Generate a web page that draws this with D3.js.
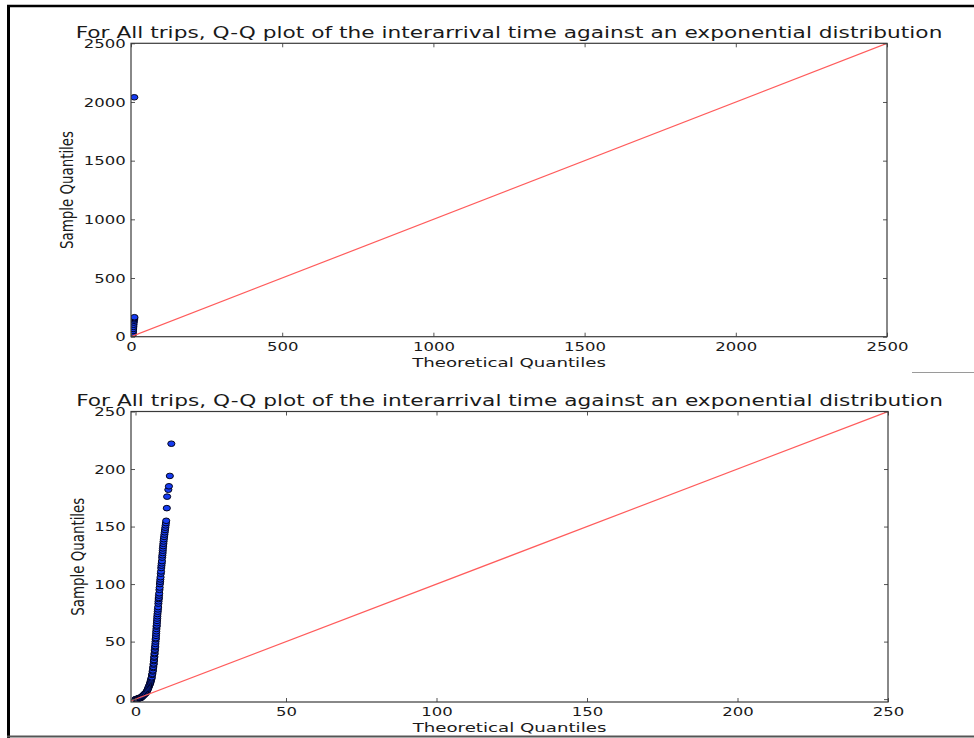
<!DOCTYPE html>
<html>
<head>
<meta charset="utf-8">
<script src="https://cdn.jsdelivr.net/npm/d3@7"></script>
<style>
  html, body { margin: 0; padding: 0; background: #fff; }
  svg { display: block; }
  text { font-family: "DejaVu Sans", sans-serif; }
</style>
</head>
<body>
<script>
// Q-Q plots of trip interarrival times vs. an exponential distribution

// Panel 1: all trips, full range (includes the large outlier)
const fullTheoretical = [0, 0.6, 1.2, 2, 2.8, 3.6, 4.5, 5.3, 6, 6.6, 7.2, 7.8, 8.4, 9, 9.6, 10.2, 10.8, 11.3, 10.9];
const fullSample      = [0, 0, 1, 2, 4, 7, 12, 20, 32, 48, 66, 84, 102, 120, 136, 148, 158, 166, 2040];

// Panel 2: all trips, zoomed to 0–250
const zoomTheoretical = [
  0, 0.2, 0.4, 0.6, 0.8, 1.0, 1.2, 1.4, 1.6, 1.8, 2.0, 2.2, 2.4, 2.6, 2.8, 3.0,
  3.2, 3.4, 3.6, 3.8, 4.0, 4.15, 4.3, 4.45, 4.6, 4.75, 4.9, 5.0, 5.1, 5.2, 5.3,
  5.4, 5.5, 5.6, 5.7, 5.78, 5.85, 5.92, 6.0, 6.05, 6.1, 6.15, 6.2, 6.25, 6.3,
  6.35, 6.4, 6.45, 6.5, 6.55, 6.6, 6.65, 6.7, 6.75, 6.8, 6.85, 6.9, 6.95, 7.0,
  7.05, 7.1, 7.15, 7.2, 7.25, 7.3, 7.38, 7.45, 7.52, 7.6, 7.65, 7.7, 7.75, 7.8,
  7.88, 7.95, 8.02, 8.1, 8.18, 8.25, 8.32, 8.4, 8.48, 8.55, 8.62, 8.7, 8.78,
  8.85, 8.92, 9.0, 9.05, 9.1, 9.18, 9.25, 9.32, 9.4, 9.5, 9.6, 9.7, 9.8, 9.9,
  10.0, 10.1, 10.2, 10.4, 10.5, 10.9, 11.1, 11.4, 11.9
];
const zoomSample = [
  0, 0, 0, 0, 0, 1, 1, 1, 1, 1, 2, 2, 3, 3, 4, 4,
  5, 5, 6, 7, 8, 9, 10, 11, 12, 13, 14, 15, 16, 17, 18,
  19, 21, 22, 24, 25, 27, 28, 30, 31, 33, 34, 36, 37, 39,
  40, 42, 43, 45, 46, 48, 50, 52, 53, 55, 57, 59, 61, 63,
  64, 66, 68, 70, 72, 74, 76, 78, 80, 83, 85, 87, 88, 90,
  92, 95, 97, 100, 102, 104, 106, 109, 111, 114, 116, 118, 120,
  123, 125, 127, 129, 131, 133, 135, 137, 139, 141, 143, 145, 147, 149,
  151, 153, 155, 166, 176, 182, 185, 194, 222
];

// Axis ticks
const fullTicks = [0, 500, 1000, 1500, 2000, 2500];
const zoomTicks = [0, 50, 100, 150, 200, 250];

// Text strings
const titleText = "For All trips, Q-Q plot of the interarrival time against an exponential distribution";
const xLabelText = "Theoretical Quantiles";
const yLabelText = "Sample Quantiles";

const W = 974, H = 738;
const SX_TICK = 1.29;        // horizontal glyph stretch for tick labels
const SX_TEXT = 1.40;        // horizontal glyph stretch for title / axis labels
const TICK_FONT = 12.8, LABEL_FONT = 13, YLABEL_FONT = 13.4, TITLE_FONT = 15.5;

const svg = d3.select("body").append("svg")
  .attr("width", W).attr("height", H)
  .attr("viewBox", `0 0 ${W} ${H}`);

svg.append("rect").attr("width", W).attr("height", H).attr("fill", "#fff");

const panels = [
  {
    id: "full",
    xs: fullTheoretical, ys: fullSample, ticks: fullTicks,
    xDomain: [0, 2500], yDomain: [0, 2500],
    left: 131, right: 887, top: 43.3, bottom: 336.7,
    titleY: 37.5, xLabelY: 367, yLabelX: 67
  },
  {
    id: "zoom",
    xs: zoomTheoretical, ys: zoomSample, ticks: zoomTicks,
    xDomain: [-1.5, 250], yDomain: [-2.5, 250],
    left: 131, right: 888, top: 411.5, bottom: 702,
    titleY: 406, xLabelY: 732, yLabelX: 78
  }
];

const fmt = d3.format("d");

panels.forEach(p => {
  const x = d3.scaleLinear().domain(p.xDomain).range([p.left, p.right]);
  const y = d3.scaleLinear().domain(p.yDomain).range([p.bottom, p.top]);
  const g = svg.append("g");

  const clipId = "clip-" + p.id;
  svg.append("defs").append("clipPath").attr("id", clipId)
    .append("rect")
    .attr("x", p.left).attr("y", p.top)
    .attr("width", p.right - p.left).attr("height", p.bottom - p.top);

  const plot = g.append("g").attr("clip-path", `url(#${clipId})`);

  // sample points
  const pts = p.xs.map((v, i) => [v, p.ys[i]]);
  plot.selectAll("ellipse").data(pts).join("ellipse")
    .attr("cx", d => x(d[0]))
    .attr("cy", d => y(d[1]))
    .attr("rx", 3.6).attr("ry", 2.8)
    .attr("fill", "#163cf2")
    .attr("stroke", "#000014")
    .attr("stroke-width", 0.95);

  // 45-degree reference line
  const lo = Math.min(p.xDomain[0], p.yDomain[0]);
  const hi = Math.max(p.xDomain[1], p.yDomain[1]);
  plot.append("line")
    .attr("x1", x(lo)).attr("y1", y(lo))
    .attr("x2", x(hi)).attr("y2", y(hi))
    .attr("stroke", "#ff5c5c").attr("stroke-width", 1.2);

  // axes with inward ticks on all four sides
  const styleAxis = sel => {
    sel.select(".domain").remove();
    sel.selectAll(".tick line").attr("stroke", "#555").attr("stroke-width", 1);
    sel.selectAll(".tick text")
      .attr("font-size", TICK_FONT)
      .attr("font-family", "DejaVu Sans")
      .attr("fill", "#1a1a1a");
  };

  g.append("g").attr("transform", `translate(0,${p.bottom})`)
    .call(d3.axisBottom(x).tickValues(p.ticks).tickFormat(fmt).tickSizeInner(-4).tickSizeOuter(0).tickPadding(5))
    .call(styleAxis)
    .call(s => s.selectAll(".tick text").attr("transform", `scale(${SX_TICK},1)`));

  g.append("g").attr("transform", `translate(0,${p.top})`)
    .call(d3.axisTop(x).tickValues(p.ticks).tickFormat("").tickSizeInner(-4).tickSizeOuter(0))
    .call(styleAxis);

  g.append("g").attr("transform", `translate(${p.left},0)`)
    .call(d3.axisLeft(y).tickValues(p.ticks).tickFormat(fmt).tickSizeInner(-4).tickSizeOuter(0).tickPadding(4))
    .call(styleAxis)
    .call(s => s.selectAll(".tick text").attr("transform", `scale(${SX_TICK},1)`));

  g.append("g").attr("transform", `translate(${p.right},0)`)
    .call(d3.axisRight(y).tickValues(p.ticks).tickFormat("").tickSizeInner(-4).tickSizeOuter(0))
    .call(styleAxis);

  // frame
  g.append("rect")
    .attr("x", p.left).attr("y", p.top)
    .attr("width", p.right - p.left).attr("height", p.bottom - p.top)
    .attr("fill", "none").attr("stroke", "#3a3a3a").attr("stroke-width", 1.2);

  const cx = (p.left + p.right) / 2;

  // title
  g.append("text")
    .attr("transform", `translate(${cx},${p.titleY}) scale(${SX_TEXT},1)`)
    .attr("text-anchor", "middle")
    .attr("font-size", TITLE_FONT)
    .attr("fill", "#1a1a1a")
    .text(titleText);

  // axis labels
  g.append("text")
    .attr("transform", `translate(${cx},${p.xLabelY}) scale(${SX_TEXT},1)`)
    .attr("text-anchor", "middle")
    .attr("font-size", LABEL_FONT)
    .attr("fill", "#1a1a1a")
    .text(xLabelText);

  g.append("text")
    .attr("transform", `translate(${p.yLabelX},${(p.top + p.bottom) / 2}) scale(${SX_TICK},1) rotate(-90)`)
    .attr("text-anchor", "middle")
    .attr("dy", "0.35em")
    .attr("font-size", YLABEL_FONT)
    .attr("fill", "#1a1a1a")
    .text(yLabelText);
});

// surrounding page frame
svg.append("line").attr("x1", 8.5).attr("y1", 5).attr("x2", 8.5).attr("y2", H)
  .attr("stroke", "#000").attr("stroke-width", 3);
svg.append("line").attr("x1", 7).attr("y1", 6).attr("x2", W).attr("y2", 6)
  .attr("stroke", "#000").attr("stroke-width", 2.5);
svg.append("line").attr("x1", 7).attr("y1", 736.5).attr("x2", W).attr("y2", 736.5)
  .attr("stroke", "#555").attr("stroke-width", 2);
svg.append("line").attr("x1", 912).attr("y1", 372.5).attr("x2", W).attr("y2", 372.5)
  .attr("stroke", "#9a9a9a").attr("stroke-width", 1);
</script>
</body>
</html>
